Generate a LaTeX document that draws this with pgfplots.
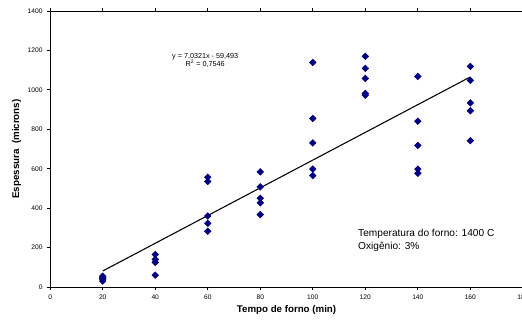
\documentclass[border=0pt]{standalone}
\usepackage{fontspec}
\setmainfont{Liberation Sans}
\usepackage{pgfplots}
\pgfplotsset{compat=1.18}
\definecolor{navy}{HTML}{000080}
\begin{document}
\begin{tikzpicture}
\useasboundingbox (0,0) rectangle (391.5pt,241.5pt);
\clip (0,0) rectangle (391.5pt,241.5pt);
\begin{axis}[
  at={(37.65pt,26.25pt)}, anchor=south west,
  scale only axis, width=354.5pt, height=207pt,
  xmin=0, xmax=180, ymin=0, ymax=1400,
  xtick={0,20,...,180}, ytick={0,200,...,1400},
  tick align=outside, major tick length=2.2pt,
  tick style={black, line width=0.6pt},
  axis line style={black, line width=0.75pt},
  tick label style={font=\fontsize{5}{6}\selectfont},
  /pgf/number format/assume math mode=true,
  /pgf/number format/1000 sep={},
  xlabel={\fontsize{7.3}{8}\selectfont\bfseries Tempo de forno (min)},
  ylabel={\fontsize{7.3}{8}\selectfont\bfseries Espessura\ \ (microns)},
  xlabel style={yshift=2pt},
  ylabel style={yshift=-2pt},
  clip=false,
]
\addplot[only marks, mark=square*, mark size=1.75pt, mark options={rotate=45, fill=navy, draw=navy}] coordinates {
(20,30) (20,40) (20,45) (20,50) (20,55)
(40,165) (40,140) (40,125) (40,60)
(60,557) (60,535) (60,360) (60,323) (60,283)
(80,584) (80,508) (80,450) (80,427) (80,367)
(100,1139) (100,855) (100,731) (100,598) (100,565)
(120,1170) (120,1109) (120,1058) (120,982) (120,973)
(140,1068) (140,841) (140,718) (140,598) (140,577)
(160,1119) (160,1048) (160,934) (160,894) (160,742)
};
\addplot[black, line width=0.8pt] coordinates {(20,81.15) (160,1065.6)};
\node[align=center, font=\fontsize{5.4}{6.4}\selectfont, inner sep=0pt] at (axis cs:59,1150) {y = 7,0321x - 59,493\\R\textsuperscript{2} = 0,7546};
\node[align=left, anchor=west, font=\fontsize{7.6}{9.5}\selectfont, inner sep=0pt] at (axis cs:117.2,236) {Temperatura do forno: 1400 C\\Oxig\^{e}nio: 3\%};
\end{axis}
\end{tikzpicture}
\end{document}
